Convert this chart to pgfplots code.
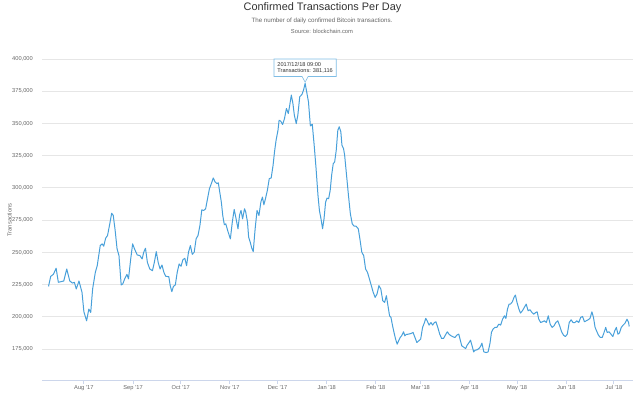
\documentclass[border=0pt]{standalone}
\usepackage{fontspec}
\setmainfont{Liberation Sans}
\usepackage{pgfplots}
\pgfplotsset{compat=1.18}
\usetikzlibrary{shapes.callouts}
\definecolor{linec}{RGB}{72,160,218}
\definecolor{gridc}{RGB}{230,230,230}
\definecolor{axisc}{RGB}{204,214,235}
\definecolor{labc}{RGB}{102,102,102}
\definecolor{titc}{RGB}{51,51,51}
\newcommand{\fs}[1]{\fontsize{#1}{1.2\dimexpr#1\relax}\selectfont}
\pgfplotstableread{
day value
-22.3 223600
-20.9 231400
-19.2 233000
-17.5 237700
-16.1 226800
-14.4 227300
-12.7 227800
-10.8 237100
-8.9 227800
-7.2 226200
-6.0 226800
-4.8 221600
-3.1 227800
-1.2 219000
0.0 203900
1.7 196900
3.1 206000
4.3 203400
5.5 221600
7.2 234500
8.4 239700
10.3 255300
11.5 256600
12.5 254800
13.7 261000
14.9 263100
16.3 272100
17.5 280400
18.5 278600
19.7 267000
20.9 252700
22.1 247500
23.5 224700
24.5 225500
25.7 229400
27.1 233000
28.1 229400
29.5 244900
30.7 256600
31.9 252700
33.6 248000
35.3 247500
36.7 244900
37.7 250100
38.8 253200
40.0 242300
41.5 237100
43.2 235800
44.4 242300
45.6 250600
46.8 242300
48.0 237100
49.2 240200
50.4 234500
51.6 231400
53.5 231200
54.4 224200
55.4 219500
56.4 223600
57.6 224700
58.8 234500
60.0 241000
61.2 239200
62.4 244400
63.6 245400
64.7 239700
65.9 250100
67.1 255300
68.3 248500
69.5 250100
70.7 260500
71.9 263100
73.1 270800
74.3 283000
75.5 282500
76.7 283800
77.9 291600
79.1 299400
80.3 303300
81.5 307700
82.7 304600
83.9 303300
84.7 304000
85.6 296800
86.6 289000
87.5 278600
88.5 271400
89.4 272100
90.9 265700
92.3 260500
93.5 273400
94.7 283300
95.9 276000
97.1 268300
98.1 279100
99.0 282500
100.0 276000
101.2 283800
101.9 281700
103.1 273400
103.8 261800
104.8 257900
105.8 253200
106.7 250600
107.9 268300
109.1 282500
110.3 278600
111.5 289000
112.5 292900
113.4 286900
114.4 291600
115.6 298100
116.8 307200
118.0 307700
119.2 317500
120.1 327900
121.1 337000
122.3 344800
123.0 352500
124.0 351800
125.2 349200
126.4 353800
127.6 361600
128.8 357700
129.7 364200
130.7 372000
131.7 365500
132.6 356400
133.8 349900
134.8 356400
136.0 370700
137.4 372500
138.4 375900
139.4 381116
141.5 366800
142.7 348100
143.9 349400
145.1 333100
146.3 314900
147.5 294200
148.4 282500
149.4 276000
150.4 268300
151.3 276000
152.3 289000
153.2 292100
154.2 291600
155.2 298100
156.1 309800
157.1 318800
158.0 320100
159.0 329200
160.0 344800
160.9 347400
161.9 343500
162.6 333100
163.6 330500
164.3 325300
165.5 309800
166.7 294200
167.9 279900
169.1 272100
170.3 270300
171.5 270300
172.9 268300
173.9 260500
175.1 250100
176.3 247500
177.5 237100
178.7 234500
179.9 229400
181.1 224200
182.3 219000
183.5 215100
184.7 217700
185.9 224200
187.1 221600
188.3 212500
189.5 211200
190.6 216400
191.6 208600
192.6 200800
193.5 199500
194.5 193000
195.4 187900
196.4 182700
197.4 178800
198.3 181400
199.3 184000
200.2 185300
201.4 188400
202.2 185300
203.1 186300
204.6 186600
206.2 187100
207.4 187900
208.6 184000
209.8 180100
211.0 181400
212.2 182700
213.4 191800
214.6 195600
215.4 198800
216.3 196900
217.5 193600
218.7 195600
219.7 193600
220.9 195600
221.8 196200
223.0 191800
224.2 186600
225.4 183200
226.6 183200
228.1 186600
229.0 188400
230.2 186300
231.4 185300
232.6 184500
233.8 184000
235.0 185800
236.2 186600
236.9 183200
238.1 177500
239.6 176200
240.5 175400
241.5 178000
242.7 180100
243.6 181900
244.6 177500
245.6 172800
246.5 174100
247.7 174400
248.9 175400
249.9 177000
250.8 179600
252.0 172800
253.5 172300
254.7 172800
255.9 179600
256.8 187900
257.8 190500
259.0 191800
260.2 191800
261.4 194300
262.6 193600
263.8 198200
265.0 200800
265.9 198800
266.9 206000
267.9 209900
268.8 209900
270.0 211700
271.0 215100
271.9 216900
272.9 211200
274.1 206000
275.1 202900
276.3 204700
277.5 207300
278.7 209900
279.9 204700
281.1 205500
282.3 203400
283.5 202100
284.7 203400
285.6 203900
286.6 198200
287.8 195600
289.0 196200
290.2 196900
291.4 195600
292.6 200800
293.8 194300
295.0 191800
296.2 193000
297.4 195600
298.6 196900
299.8 193000
301.0 188400
302.2 185800
303.4 184700
304.6 186600
305.8 195600
307.0 197700
308.2 195600
309.4 195600
310.6 196900
311.8 195600
313.0 199500
314.2 200300
315.4 196200
316.5 196900
317.7 197700
318.9 198800
320.1 203900
321.1 199500
322.1 191800
323.0 189200
324.2 185800
325.4 184000
326.6 184000
327.6 187300
328.8 191800
329.7 187900
330.9 188400
332.1 186600
333.3 184700
334.5 189200
335.5 191800
336.5 186600
337.4 187300
338.6 191800
339.8 193600
341.0 195100
342.2 198200
343.2 195600
343.6 192500
}\txdata
\begin{document}
\begin{tikzpicture}[x=1bp,y=1bp]
\path[use as bounding box] (0,0) rectangle (640,392);
\node[font=\fs{10.9bp}, text=titc, anchor=base] at (322.5,382) {Confirmed Transactions Per Day};
\node[font=\fs{6.2bp}, text=labc, anchor=base] at (322,369.5) {The number of daily confirmed Bitcoin transactions.};
\node[font=\fs{5.8bp}, text=labc, anchor=base] at (322,359) {Source: blockchain.com};
\node[font=\fs{5.8bp}, text=labc, rotate=90] at (9.5,172) {Transactions};
\begin{axis}[
  at={(42bp,12bp)}, anchor=south west,
  scale only axis, width=591bp, height=321bp,
  xmin=-26.4, xmax=346, ymin=151000, ymax=400000,
  axis x line*=bottom, axis y line*=left,
  y axis line style={draw=none},
  x axis line style={axisc, line width=1bp},
  xtick={0,31,61,92,122,153,184,212,243,273,304,334},
  xticklabels={Aug '17,Sep '17,Oct '17,Nov '17,Dec '17,Jan '18,Feb '18,Mar '18,Apr '18,May '18,Jun '18,Jul '18},
  ytick={175000,200000,225000,250000,275000,300000,325000,350000,375000,400000},
  scaled y ticks=false,
  ymajorgrids, major grid style={gridc, line width=0.9bp},
  tick align=outside, major tick length=4bp,
  xtick style={axisc, line width=1bp},
  ytick style={draw=none},
  tick label style={font=\fs{5.7bp}, text=labc},
  xticklabel style={anchor=north, inner sep=0pt, yshift=-1.5bp},
  yticklabel style={anchor=east, inner sep=0pt, xshift=-5bp},
  /pgf/number format/fixed,
  /pgf/number format/1000 sep={,},
  /pgf/number format/assume math mode=true,
  clip=false,
]
\addplot[linec, line width=1bp, line join=round, no markers] table[x=day, y=value] {\txdata};
\node[rectangle callout, draw=linec!70, fill=white, line width=0.6bp,
  callout absolute pointer={(axis cs:139.4,382000)},
  callout pointer width=6bp,
  align=left, font=\fs{5.6bp}, text=titc, inner xsep=3.5bp, inner ysep=3bp,
  anchor=south] at (axis cs:139.4,381116) [yshift=6.5bp]
  {2017/12/18 09:00\\Transactions: 381,116};
\end{axis}
\end{tikzpicture}
\end{document}
